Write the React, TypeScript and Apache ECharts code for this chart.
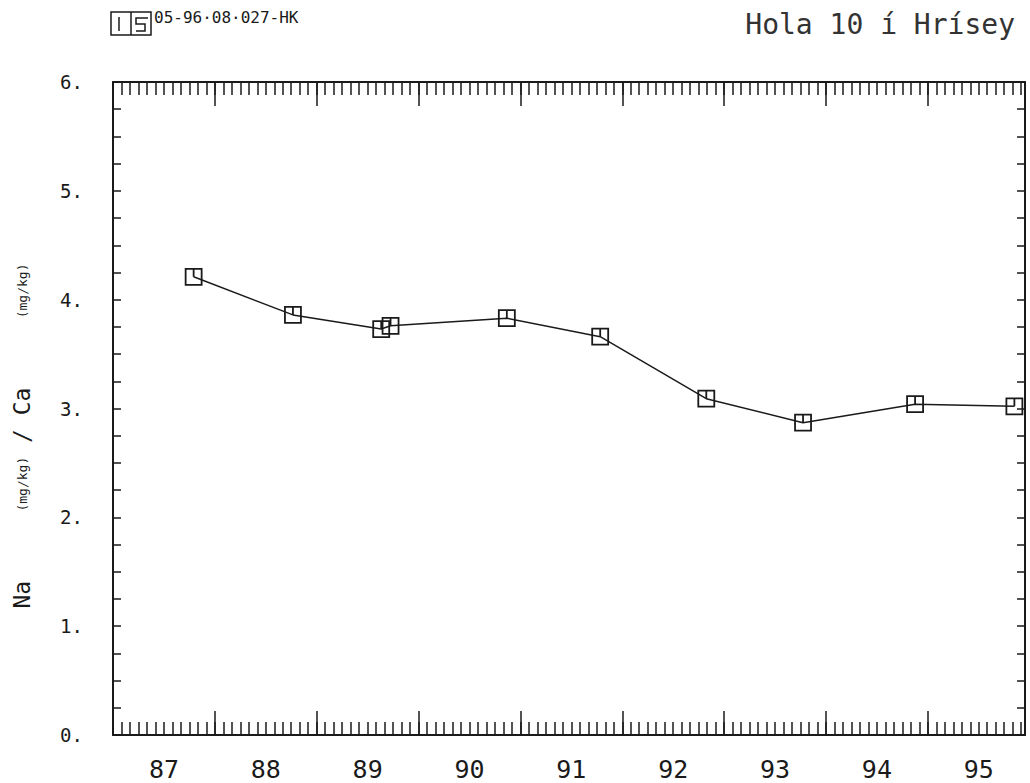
import React, { useEffect, useRef } from "react";
import * as echarts from "echarts";

// Months since January 1987 for each sample, and the Na/Ca ratio
const monthsSinceJan87 = [9.5, 21.2, 31.6, 32.7, 46.4, 57.4, 69.9, 81.3, 94.5, 106.2];
const naCaRatio = [4.21, 3.86, 3.73, 3.76, 3.83, 3.66, 3.09, 2.87, 3.04, 3.02];

const yearLabels = ["87", "88", "89", "90", "91", "92", "93", "94", "95"];
const yearLabelPositions = yearLabels.map((_, i) => i * 12 + 6);
const yearTickPositions = yearLabels.slice(1).map((_, i) => (i + 1) * 12);
const yTickLabels = ["0.", "1.", "2.", "3.", "4.", "5.", "6."];

const X_MAX = 107.45;
const MONO = "DejaVu Sans Mono";
const INK = "#1a1a1a";

export default function App() {
  const ref = useRef<HTMLDivElement>(null);

  useEffect(() => {
    if (!ref.current) return;
    const chart = echarts.init(ref.current, null, { renderer: "svg" });

    const lineStyle = { color: INK, width: 2 };
    const minorX = (position: "top" | "bottom", showLabel: boolean) => ({
      type: "value",
      position,
      min: 0,
      max: X_MAX,
      interval: 1,
      axisLine: { show: true, onZero: false, lineStyle },
      axisTick: { show: true, inside: true, length: 13, lineStyle: { color: INK, width: 1.5 } },
      axisLabel: showLabel
        ? {
            show: true,
            customValues: yearLabelPositions,
            formatter: (v: number) => {
              const i = yearLabelPositions.findIndex((p) => Math.abs(p - v) < 0.01);
              return i >= 0 ? yearLabels[i] : "";
            },
            margin: 22,
            fontFamily: MONO,
            fontSize: 25,
            color: INK,
          }
        : { show: false },
      splitLine: { show: false },
    });
    const majorX = (position: "top" | "bottom") => ({
      type: "value",
      position,
      min: 0,
      max: X_MAX,
      axisLine: { show: false, onZero: false },
      axisTick: {
        show: true,
        inside: true,
        length: 24,
        customValues: yearTickPositions,
        lineStyle: { color: INK, width: 1.5 },
      },
      axisLabel: { show: false },
      splitLine: { show: false },
    });
    const yAx = (position: "left" | "right", showLabel: boolean) => ({
      type: "value",
      position,
      min: 0,
      max: 6,
      interval: 0.25,
      axisLine: { show: true, onZero: false, lineStyle },
      axisTick: { show: true, inside: true, length: 8, lineStyle: { color: INK, width: 1.5 } },
      axisLabel: showLabel
        ? {
            show: true,
            formatter: (v: number) =>
              Math.abs(v - Math.round(v)) < 1e-6 ? yTickLabels[Math.round(v)] ?? "" : "",
            margin: 30,
            fontFamily: MONO,
            fontSize: 19,
            color: INK,
          }
        : { show: false },
      splitLine: { show: false },
    });

    chart.setOption({
      animation: false,
      backgroundColor: "#ffffff",
      grid: { left: 113, top: 82, right: 5, bottom: 48, containLabel: false, outerBoundsMode: "none" },
      xAxis: [minorX("bottom", true), majorX("bottom"), minorX("top", false), majorX("top")],
      yAxis: [yAx("left", true), yAx("right", false)],
      series: [
        {
          type: "line",
          xAxisIndex: 0,
          yAxisIndex: 0,
          data: monthsSinceJan87.map((m, i) => [m, naCaRatio[i]]),
          lineStyle: { color: INK, width: 1.5 },
          symbol: "path://M0,0H16V16H0Z M8,0V8",
          symbolSize: 16,
          itemStyle: { color: "none", borderColor: INK, borderWidth: 1.8 },
        },
      ],
      graphic: [
        {
          type: "text",
          right: 15,
          top: 10,
          style: { text: "Hola 10 í Hrísey", fontFamily: MONO, fontSize: 28, fill: "#333" },
        },
        {
          type: "rect",
          shape: { x: 111, y: 12, width: 40, height: 23 },
          style: { fill: "none", stroke: INK, lineWidth: 1.5 },
        },
        {
          type: "line",
          shape: { x1: 119, y1: 17, x2: 119, y2: 31 },
          style: { stroke: INK, lineWidth: 1.5 },
        },
        {
          type: "line",
          shape: { x1: 131, y1: 12, x2: 131, y2: 35 },
          style: { stroke: INK, lineWidth: 1.5 },
        },
        {
          type: "polyline",
          shape: { points: [[148, 18], [136, 18], [136, 24], [145, 24], [145, 31], [136, 31]] },
          style: { fill: "none", stroke: INK, lineWidth: 1.5 },
        },
        {
          type: "text",
          x: 154,
          y: 9,
          style: { text: "05-96·08·027-HK", fontFamily: MONO, fontSize: 16, fill: INK },
        },
        {
          type: "text",
          x: 22,
          y: 436,
          rotation: Math.PI / 2,
          style: {
            text: "{b|Na}{b|     }{s|(mg/kg)}{b| }{b|/}{b| }{b|Ca}{b|     }{s|(mg/kg)}",
            align: "center",
            verticalAlign: "middle",
            fontFamily: MONO,
            rich: {
              b: { fontFamily: MONO, fontSize: 23, fill: INK },
              s: { fontFamily: MONO, fontSize: 13, fill: INK },
            },
          },
        },
      ],
    });

    return () => chart.dispose();
  }, []);

  return (
    <div
      ref={ref}
      style={{ position: "absolute", left: 0, top: 0, width: 1030, height: 783, background: "#fff" }}
    />
  );
}
